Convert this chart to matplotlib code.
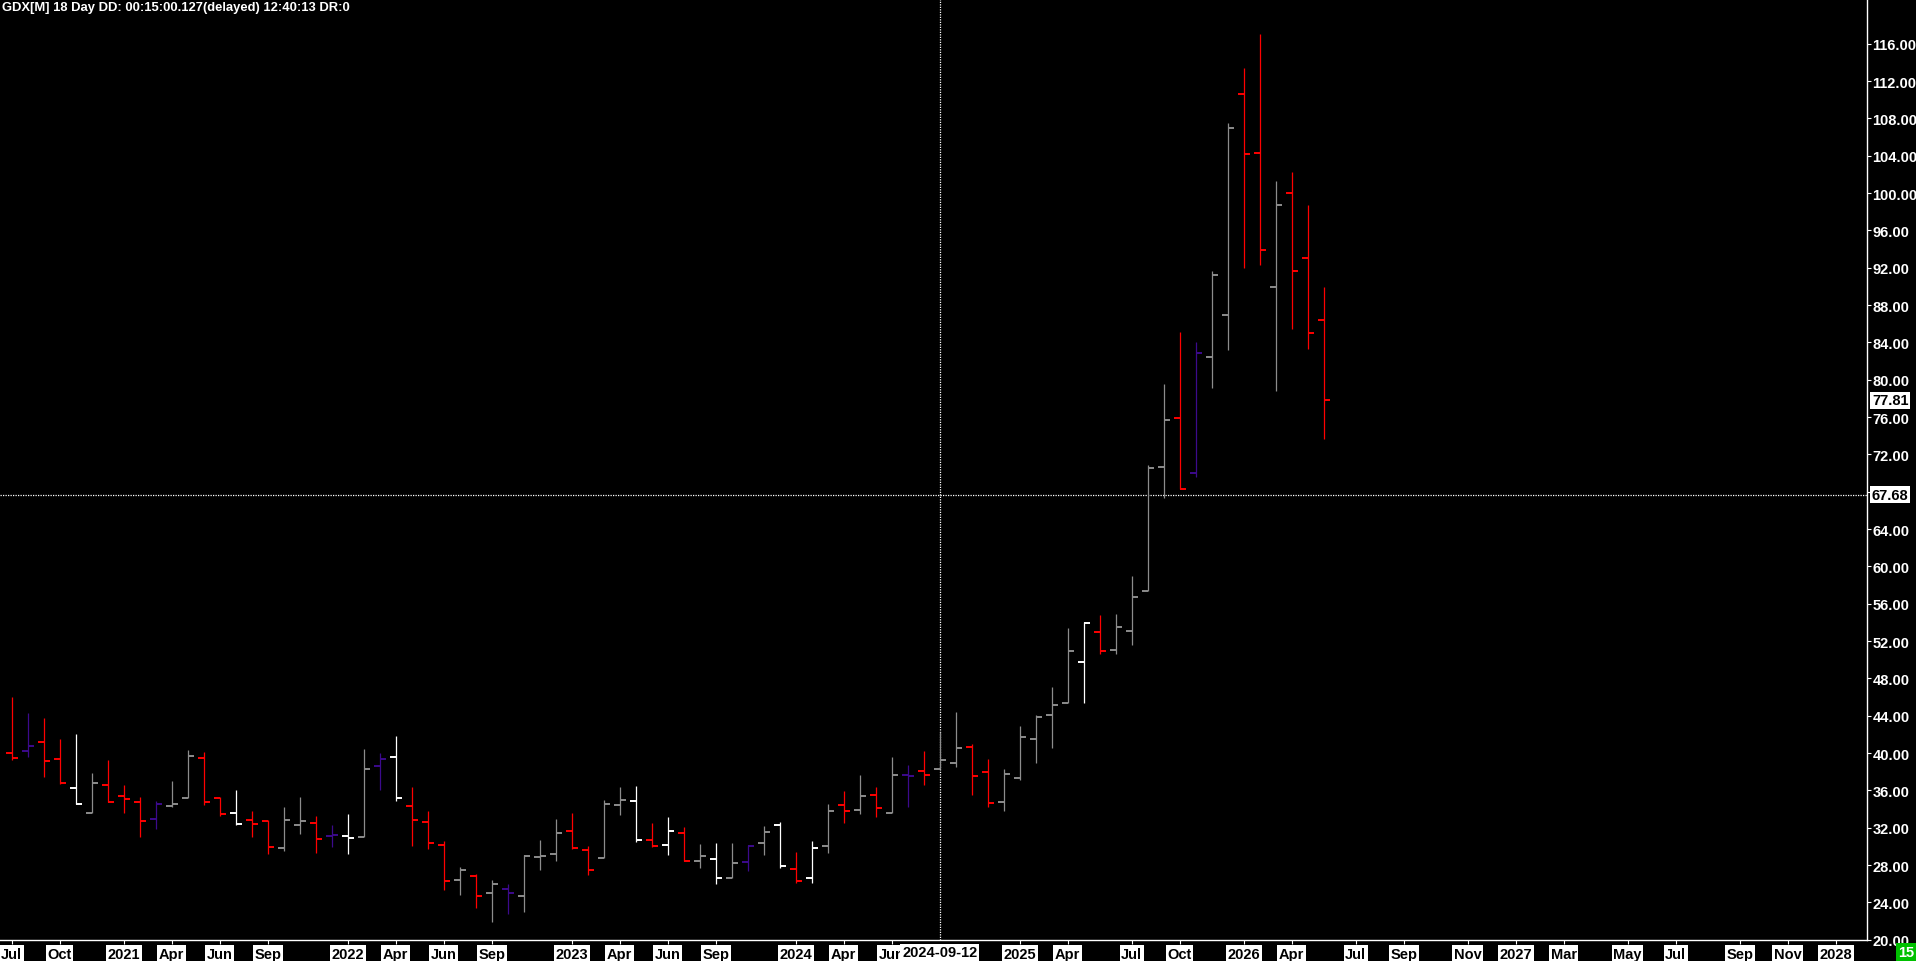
import matplotlib
matplotlib.use("Agg")
import matplotlib.pyplot as plt
from matplotlib.transforms import blended_transform_factory

# 18-day OHLC bars (bar index 0 = Jul 2020)
opens = [40.00, 40.22, 41.22, 39.36, 36.25, 33.57, 36.57, 35.40, 34.75, 32.93,
         34.32, 35.18, 39.47, 35.18, 33.57, 32.82, 32.72, 29.82, 32.29, 32.50,
         31.11, 31.11, 31.00, 38.61, 39.57, 34.32, 32.61, 30.15, 26.40, 26.82,
         25.00, 25.43, 24.68, 28.86, 29.18, 31.65, 29.61, 28.75, 34.43, 34.86,
         30.68, 30.15, 31.43, 28.43, 28.65, 26.61, 28.32, 30.36, 32.29, 27.57,
         26.61, 30.07, 34.43, 33.90, 35.50, 33.57, 37.65, 38.11, 38.29, 38.93,
         40.65, 37.97, 34.76, 37.33, 41.51, 44.08, 45.36, 49.76, 52.97, 51.04,
         53.08, 57.36, 70.63, 75.88, 69.99, 82.41, 86.91, 110.59, 104.27, 89.95,
         99.99, 93.02, 86.38]
highs = [46.00, 44.32, 43.79, 41.54, 42.07, 37.90, 39.29, 36.57, 35.32, 34.90,
         37.04, 40.36, 40.15, 35.32, 36.07, 33.82, 32.82, 34.25, 35.32, 33.29,
         32.32, 33.50, 40.47, 40.04, 41.86, 36.40, 33.82, 30.61, 27.79, 27.07,
         26.43, 26.00, 29.11, 30.72, 32.97, 33.61, 30.07, 35.00, 36.40, 36.50,
         32.54, 33.18, 32.11, 30.29, 30.40, 30.40, 30.18, 32.22, 32.65, 29.43,
         30.61, 34.57, 35.97, 37.68, 36.32, 39.61, 38.68, 40.25, 42.22, 44.43,
         41.01, 39.40, 38.33, 42.94, 44.11, 47.11, 53.44, 54.04, 54.83, 54.94,
         59.01, 70.88, 79.56, 85.13, 84.06, 91.66, 107.52, 113.41, 117.06, 101.31,
         102.27, 98.74, 89.95]
lows = [39.25, 39.54, 37.40, 36.68, 34.54, 33.57, 34.72, 33.54, 30.97, 31.90,
        34.18, 35.18, 34.40, 33.22, 32.29, 30.97, 29.15, 29.47, 31.29, 29.25,
        29.90, 29.15, 31.00, 36.00, 34.82, 30.00, 29.68, 25.29, 24.75, 23.36,
        21.86, 22.79, 22.93, 27.50, 28.40, 29.72, 26.90, 28.75, 33.32, 30.50,
        29.93, 29.04, 28.43, 27.65, 25.93, 26.61, 27.32, 29.04, 27.68, 26.07,
        26.04, 29.25, 32.47, 33.43, 33.11, 33.57, 34.18, 36.54, 38.29, 38.47,
        35.47, 34.22, 33.76, 37.08, 38.90, 40.51, 45.36, 45.33, 50.58, 50.58,
        51.54, 57.36, 67.38, 68.34, 69.63, 79.16, 83.24, 92.02, 92.31, 78.84,
        85.45, 83.34, 73.70]
closes = [39.47, 40.75, 39.18, 36.79, 34.54, 36.79, 34.75, 35.07, 32.72, 34.54,
          34.54, 39.68, 34.75, 33.47, 32.40, 32.40, 29.93, 32.82, 32.72, 30.79,
          31.22, 30.90, 38.29, 39.36, 35.18, 32.82, 30.36, 26.29, 27.47, 24.68,
          25.97, 25.00, 28.97, 28.97, 31.43, 29.79, 27.47, 34.54, 34.97, 30.68,
          30.04, 31.65, 28.43, 28.97, 26.61, 28.22, 30.04, 31.54, 27.90, 26.29,
          29.82, 33.79, 33.79, 35.40, 34.15, 37.65, 37.54, 37.65, 39.25, 40.57,
          37.54, 34.65, 37.76, 41.72, 43.86, 45.15, 50.94, 53.94, 50.94, 53.51,
          56.72, 70.52, 75.66, 68.34, 82.84, 91.20, 106.95, 104.16, 93.91, 98.70,
          91.63, 84.99, 77.81]
bar_colours = ("rprrwgrrrp" "ggrrwrrggr" "pwgpwrrrgr" "gpgggrrggw" "rwrgwgpgwr"
               "wgrgrgprgg" "rrgggggwrg" "gggrpggrrg" "rrr")

tick_pos = [0, 3, 7, 10, 13, 16, 21, 24, 27, 30, 35, 38, 41, 44, 49, 52, 55,
            63, 66, 70, 73, 77, 80, 84, 87, 91, 94, 97, 101, 104, 108, 111, 114]
tick_labels = ["Jul", "Oct", "2021", "Apr", "Jun", "Sep", "2022", "Apr", "Jun", "Sep",
               "2023", "Apr", "Jun", "Sep", "2024", "Apr", "Jun", "2025", "Apr", "Jul",
               "Oct", "2026", "Apr", "Jul", "Sep", "Nov", "2027", "Mar", "May", "Jul",
               "Sep", "Nov", "2028"]
cross_bar = 58
cross_date = "2024-09-12"
cross_price = 67.68

cmap = {"r": "#ff0000", "g": "#8c8c8c", "w": "#ffffff", "p": "#3c0a8c"}
narrow = ["Liberation Sans Narrow", "Liberation Sans", "DejaVu Sans"]

W, H = 1916, 962
fig = plt.figure(figsize=(W / 100, H / 100), dpi=100, facecolor="black")
ax = fig.add_axes([0, 1 - 941 / H, 1867 / W, 941 / H], facecolor="black")

xs = list(range(len(opens)))
cols = [cmap[c] for c in bar_colours]
w = 0.375
ax.vlines(xs, lows, highs, colors=cols, linewidth=0.9, zorder=3)
ax.hlines(opens, [x - w for x in xs], xs, colors=cols, linewidth=1.4, zorder=3)
ax.hlines(closes, xs, [x + w for x in xs], colors=cols, linewidth=1.4, zorder=3)

# crosshair
ax.axvline(cross_bar, color="white", linestyle=(0, (1, 1)), linewidth=0.9, zorder=2)
ax.axhline(cross_price, color="white", linestyle=(0, (1, 1)), linewidth=0.9, zorder=2)

ax.set_xlim(-0.73, 115.96)
ax.set_ylim(19.98, 120.8)

for s in ["top", "left"]:
    ax.spines[s].set_visible(False)
for s in ["right", "bottom"]:
    ax.spines[s].set_color("white")
    ax.spines[s].set_linewidth(1.0)

ax.yaxis.tick_right()
yt = list(range(20, 117, 4))
ax.set_yticks(yt)
ax.set_yticklabels([f"{v:.2f}" for v in yt])
ax.tick_params(axis="y", colors="white", length=3, width=0.8, pad=1,
               labelsize=10.5)
for lbl in ax.get_yticklabels():
    lbl.set_family(narrow)
    lbl.set_fontweight("bold")

ax.set_xticks(tick_pos)
ax.set_xticklabels(tick_labels)
ax.tick_params(axis="x", colors="white", length=3, width=0.8, pad=2,
               labelsize=10.5, labelcolor="black")
for lbl in ax.get_xticklabels():
    lbl.set_family(narrow)
    lbl.set_fontweight("bold")
    lbl.set_bbox(dict(facecolor="white", edgecolor="none", pad=1.2))

# crosshair / last price labels
tr_x = blended_transform_factory(ax.transData, fig.transFigure)
fig.text(cross_bar, 1.5 / H, cross_date, transform=tr_x, ha="center", va="bottom",
         color="black", fontsize=10.5, fontweight="bold", family=narrow,
         bbox=dict(facecolor="white", edgecolor="none", pad=1.2), zorder=10)
tr_y = blended_transform_factory(fig.transFigure, ax.transData)
for val in [cross_price, closes[-1]]:
    fig.text(1872 / W, val, f"{val:.2f}", transform=tr_y, ha="left", va="center",
             color="black", fontsize=10.5, fontweight="bold", family=narrow,
             bbox=dict(facecolor="white", edgecolor="none", pad=1.2), zorder=10)

fig.text(1906 / W, 1.5 / H, "15", ha="center", va="bottom", color="white",
         fontsize=10.5, fontweight="bold", family=narrow,
         bbox=dict(facecolor="#00c000", edgecolor="none", pad=1.5))

fig.text(2 / W, 1 - 2 / H, "GDX[M] 18 Day DD: 00:15:00.127(delayed) 12:40:13 DR:0",
         ha="left", va="top", color="white", fontsize=9.4, fontweight="bold",
         family=["Liberation Sans", "DejaVu Sans"])

fig.savefig("out.png", dpi=100, facecolor="black")
